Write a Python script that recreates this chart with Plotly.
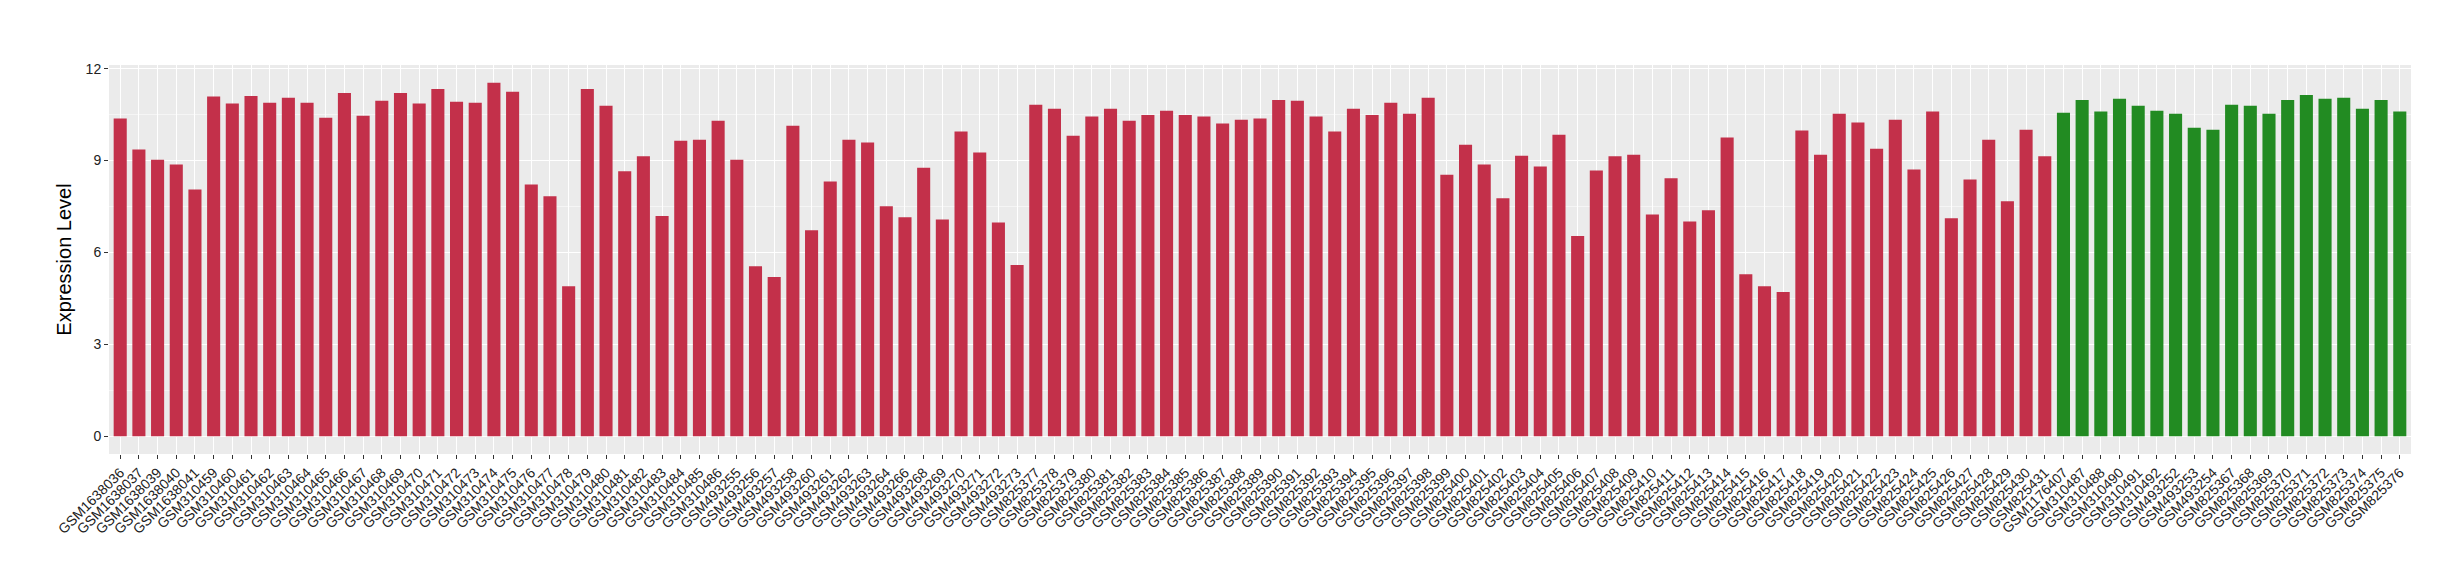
import plotly.graph_objects as go

# Samples and expression values, left to right
red_samples = [
    "GSM1638036", "GSM1638037", "GSM1638039", "GSM1638040", "GSM1638041",
    "GSM310459", "GSM310460", "GSM310461", "GSM310462", "GSM310463", "GSM310464",
    "GSM310465", "GSM310466", "GSM310467", "GSM310468", "GSM310469", "GSM310470",
    "GSM310471", "GSM310472", "GSM310473", "GSM310474", "GSM310475", "GSM310476",
    "GSM310477", "GSM310478", "GSM310479", "GSM310480", "GSM310481", "GSM310482",
    "GSM310483", "GSM310484", "GSM310485", "GSM310486",
    "GSM493255", "GSM493256", "GSM493257", "GSM493258", "GSM493260", "GSM493261",
    "GSM493262", "GSM493263", "GSM493264", "GSM493266", "GSM493268", "GSM493269",
    "GSM493270", "GSM493271", "GSM493272", "GSM493273",
    "GSM825377", "GSM825378", "GSM825379", "GSM825380", "GSM825381", "GSM825382",
    "GSM825383", "GSM825384", "GSM825385", "GSM825386", "GSM825387", "GSM825388",
    "GSM825389", "GSM825390", "GSM825391", "GSM825392", "GSM825393", "GSM825394",
    "GSM825395", "GSM825396", "GSM825397", "GSM825398", "GSM825399", "GSM825400",
    "GSM825401", "GSM825402", "GSM825403", "GSM825404", "GSM825405", "GSM825406",
    "GSM825407", "GSM825408", "GSM825409", "GSM825410", "GSM825411", "GSM825412",
    "GSM825413", "GSM825414", "GSM825415", "GSM825416", "GSM825417", "GSM825418",
    "GSM825419", "GSM825420", "GSM825421", "GSM825422", "GSM825423", "GSM825424",
    "GSM825425", "GSM825426", "GSM825427", "GSM825428", "GSM825429", "GSM825430",
    "GSM825431",
]
red_values = [
    10.37, 9.36, 9.03, 8.87, 8.06,
    11.09, 10.86, 11.11, 10.89, 11.05, 10.89,
    10.40, 11.21, 10.46, 10.95, 11.21, 10.86,
    11.34, 10.92, 10.89, 11.54, 11.25, 8.22,
    7.84, 4.90, 11.34, 10.79, 8.65, 9.14,
    7.19, 9.65, 9.68, 10.30,
    9.03, 5.55, 5.20, 10.14, 6.73, 8.32,
    9.68, 9.59, 7.51, 7.15, 8.77, 7.08,
    9.95, 9.26, 6.98, 5.59,
    10.82, 10.69, 9.81, 10.44, 10.69, 10.30,
    10.49, 10.63, 10.49, 10.44, 10.21, 10.33,
    10.37, 10.98, 10.95, 10.44, 9.95, 10.69,
    10.49, 10.89, 10.53, 11.05, 8.54, 9.52,
    8.87, 7.77, 9.16, 8.81, 9.84, 6.54,
    8.68, 9.14, 9.19, 7.24, 8.42, 7.01,
    7.38, 9.75, 5.29, 4.90, 4.71, 9.98,
    9.19, 10.53, 10.24, 9.39, 10.33, 8.71,
    10.60, 7.12, 8.38, 9.68, 7.67, 10.01,
    9.14,
]

green_samples = [
    "GSM1176407", "GSM310487", "GSM310488", "GSM310490", "GSM310491", "GSM310492",
    "GSM493252", "GSM493253", "GSM493254", "GSM825367", "GSM825368", "GSM825369",
    "GSM825370", "GSM825371", "GSM825372", "GSM825373", "GSM825374", "GSM825375",
    "GSM825376",
]
green_values = [
    10.56, 10.98, 10.60, 11.02, 10.79, 10.63,
    10.53, 10.07, 10.01, 10.82, 10.79, 10.53,
    10.98, 11.14, 11.02, 11.05, 10.69, 10.98,
    10.60,
]

y_ticks = [0, 3, 6, 9, 12]

all_samples = red_samples + green_samples
font_family = "Liberation Sans, Arial, sans-serif"

fig = go.Figure()
fig.add_trace(go.Bar(x=red_samples, y=red_values, marker_color="#C3304A",
                     marker_line_width=0, showlegend=False))
fig.add_trace(go.Bar(x=green_samples, y=green_values, marker_color="#228B22",
                     marker_line_width=0, showlegend=False))

fig.update_layout(
    width=2460, height=580,
    margin=dict(l=101, r=57, t=57, b=134),
    paper_bgcolor="white", plot_bgcolor="#EBEBEB",
    barmode="overlay", bargap=0.3,
    font=dict(family=font_family, color="#222222"),
)
fig.update_xaxes(
    type="category", categoryorder="array", categoryarray=all_samples,
    range=[-0.6, len(all_samples) - 0.4],
    tickangle=-45, tickfont=dict(size=14, color="#222222"),
    showgrid=True, gridcolor="white", gridwidth=1.2,
    ticks="outside", ticklen=4, tickcolor="#333333",
    zeroline=False, showline=False, automargin=False,
)
fig.update_yaxes(
    range=[-0.577, 12.12], tickvals=y_ticks,
    tickfont=dict(size=14, color="#222222"),
    showgrid=True, gridcolor="white", gridwidth=1.2,
    minor=dict(dtick=1.5, tick0=0, showgrid=True, gridcolor="#F5F5F5", gridwidth=0.6),
    ticks="outside", ticklen=4, tickcolor="#333333",
    zeroline=False, showline=False, automargin=False,
    title=dict(text="Expression Level", font=dict(size=20, color="black"), standoff=8),
)

fig.write_html("out.html")
